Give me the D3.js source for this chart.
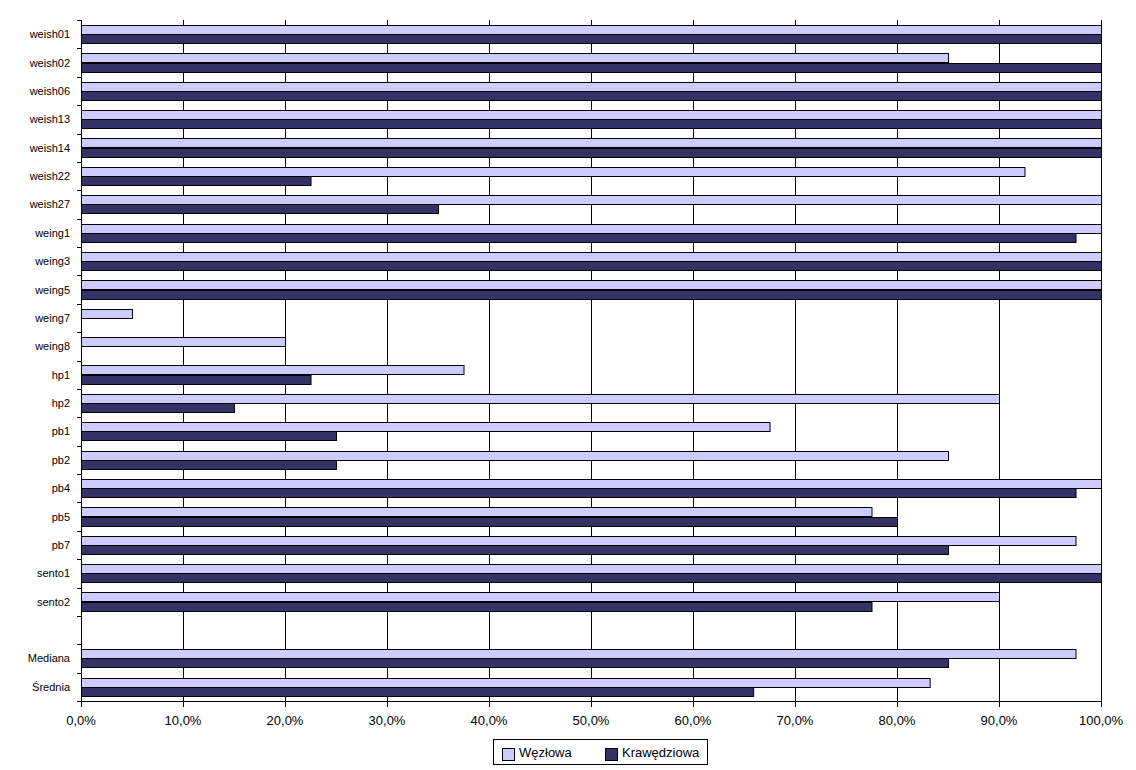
<!DOCTYPE html>
<html>
<head>
<meta charset="utf-8">
<script src="https://cdn.jsdelivr.net/npm/d3@7"></script>
<style>
  body { margin: 0; background: #fff; }
  svg { display: block; }
  text { font-family: "Liberation Sans", Arial, sans-serif; fill: #000; }
</style>
</head>
<body>
<svg id="chart" width="1136" height="770"></svg>
<script>
const categories = ["weish01","weish02","weish06","weish13","weish14","weish22","weish27","weing1","weing3","weing5","weing7","weing8","hp1","hp2","pb1","pb2","pb4","pb5","pb7","sento1","sento2"," ","Mediana","Średnia"];
const series = ["Węzłowa","Krawędziowa"];
const wezlowa =     [100, 85, 100, 100, 100, 92.5, 100, 100, 100, 100, 5, 20, 37.5, 90, 67.5, 85, 100, 77.5, 97.5, 100, 90, null, 97.5, 83.2];
const krawedziowa = [100, 100, 100, 100, 100, 22.5, 35, 97.5, 100, 100, 0, 0, 22.5, 15, 25, 25, 97.5, 80, 85, 100, 77.5, null, 85, 65.9];
const xTicks = [0,10,20,30,40,50,60,70,80,90,100];
const colors = ["#CCCCFF", "#333366"];

(function () {
const svg = d3.select("#chart");
const mLeft = 81, mRight = 1101, mTop = 20, mBottom = 701;

const x = d3.scaleLinear().domain([0, 100]).range([mLeft, mRight]);
const y = d3.scaleBand().domain(categories).range([mTop, mBottom]).paddingInner(0).paddingOuter(0);
const ySub = d3.scaleBand().domain(series).range([0, y.bandwidth()]).paddingInner(0).paddingOuter(0.54);

const fmt = v => d3.format(".1f")(v).replace(".", ",") + "%";

// gridlines
svg.append("g").selectAll("line").data(xTicks.filter(t => t > 0)).join("line")
  .attr("x1", d => Math.round(x(d)) + 0.5).attr("x2", d => Math.round(x(d)) + 0.5)
  .attr("y1", mTop).attr("y2", mBottom)
  .attr("stroke", "#000").attr("stroke-width", 1);

// bars
const data = [];
categories.forEach((c, i) => {
  [wezlowa, krawedziowa].forEach((arr, s) => {
    if (arr[i] != null && arr[i] > 0) data.push({ c, s, v: arr[i] });
  });
});
svg.append("g").selectAll("rect").data(data).join("rect")
  .attr("x", x(0) + 0.5)
  .attr("y", d => Math.round(y(d.c) + ySub(series[d.s])) + 0.5)
  .attr("width", d => x(d.v) - x(0))
  .attr("height", Math.round(ySub.bandwidth()))
  .attr("fill", d => colors[d.s])
  .attr("stroke", "#000").attr("stroke-width", 1);

// y axis
const yAxis = svg.append("g");
yAxis.append("line").attr("x1", mLeft + 0.5).attr("x2", mLeft + 0.5).attr("y1", mTop).attr("y2", mBottom + 0.5)
  .attr("stroke", "#000");
const boundaries = categories.map(c => y(c)).concat([mBottom]);
yAxis.selectAll("line.tk").data(boundaries).join("line").attr("class", "tk")
  .attr("x1", mLeft - 4).attr("x2", mLeft)
  .attr("y1", d => Math.round(d) + 0.5).attr("y2", d => Math.round(d) + 0.5)
  .attr("stroke", "#000");
yAxis.selectAll("text").data(categories).join("text")
  .attr("x", 70).attr("y", d => y(d) + y.bandwidth() / 2 + 4)
  .attr("text-anchor", "end").attr("font-size", 11)
  .text(d => d.trim());

// x axis
const xAxis = svg.append("g");
xAxis.append("line").attr("x1", mLeft).attr("x2", mRight + 1).attr("y1", mBottom + 0.5).attr("y2", mBottom + 0.5)
  .attr("stroke", "#000");
xAxis.selectAll("line.tk").data(xTicks).join("line").attr("class", "tk")
  .attr("x1", d => Math.round(x(d)) + 0.5).attr("x2", d => Math.round(x(d)) + 0.5)
  .attr("y1", mBottom).attr("y2", mBottom + 6)
  .attr("stroke", "#000");
xAxis.selectAll("text").data(xTicks).join("text")
  .attr("x", d => x(d)).attr("y", 725)
  .attr("text-anchor", "middle").attr("font-size", 13)
  .text(d => fmt(d));

// legend
const lg = svg.append("g");
lg.append("rect").attr("x", 493.5).attr("y", 739.5).attr("width", 214).attr("height", 25)
  .attr("fill", "#fff").attr("stroke", "#000");
const lx = [502, 605];
series.forEach((s, i) => {
  lg.append("rect").attr("x", lx[i] + 0.5).attr("y", 748.5).attr("width", 12).attr("height", 12)
    .attr("fill", colors[i]).attr("stroke", "#000");
  lg.append("text").attr("x", lx[i] + 17).attr("y", 757).attr("font-size", 13).text(s);
});
})();
</script>
</body>
</html>
